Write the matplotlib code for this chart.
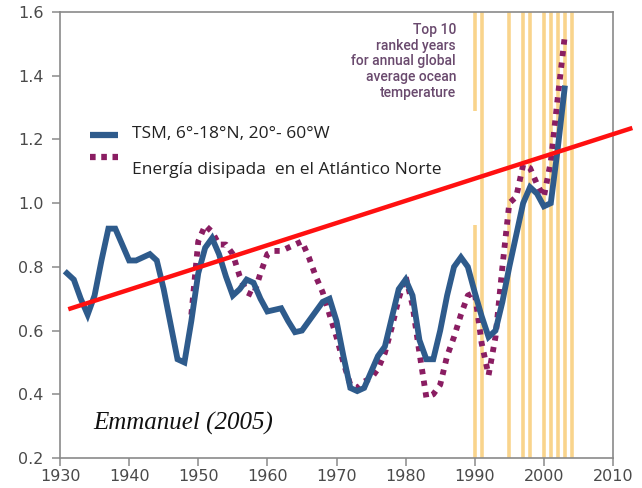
import matplotlib
matplotlib.use("Agg")
import matplotlib.pyplot as plt
from matplotlib.lines import Line2D

# ---- data ----
tsm_years = list(range(1931, 2004))
tsm_values = [0.78, 0.76, 0.70, 0.65, 0.71, 0.82, 0.92, 0.92, 0.87, 0.82,
              0.82, 0.83, 0.84, 0.82, 0.73, 0.62, 0.51, 0.50, 0.63, 0.78,
              0.86, 0.89, 0.84, 0.77, 0.71, 0.73, 0.76, 0.75, 0.70, 0.66,
              0.665, 0.67, 0.63, 0.595, 0.60, 0.63, 0.66, 0.69, 0.70, 0.63,
              0.52, 0.42, 0.41, 0.42, 0.47, 0.52, 0.55, 0.64, 0.73, 0.76,
              0.71, 0.57, 0.51, 0.51, 0.60, 0.71, 0.80, 0.83, 0.80, 0.72,
              0.645, 0.58, 0.60, 0.69, 0.80, 0.90, 1.00, 1.05, 1.03, 0.99,
              1.00, 1.17, 1.36]

pdi_years = list(range(1949, 2004))
pdi_values = [0.65, 0.88, 0.93, 0.91, 0.87, 0.87, 0.84, 0.77, 0.72, 0.71,
              0.78, 0.84, 0.85, 0.85, 0.86, 0.87, 0.88, 0.83, 0.77, 0.72,
              0.65, 0.58, 0.50, 0.43, 0.42, 0.44, 0.45, 0.48, 0.53, 0.61,
              0.70, 0.77, 0.68, 0.53, 0.39, 0.40, 0.43, 0.52, 0.58, 0.65,
              0.71, 0.72, 0.56, 0.46, 0.58, 0.80, 1.00, 1.02, 1.12, 1.11,
              1.06, 1.02, 1.13, 1.33, 1.52]

trend_years = [1931.2, 2012.8]
trend_values = [0.667, 1.236]

top10_years = [1990, 1991, 1995, 1997, 1998, 2000, 2001, 2002, 2003, 2004]

xticks = [1930, 1940, 1950, 1960, 1970, 1980, 1990, 2000, 2010]
yticks = [0.2, 0.4, 0.6, 0.8, 1.0, 1.2, 1.4, 1.6]

label_tsm = "TSM, 6°-18°N, 20°- 60°W"
label_pdi = "Energía disipada  en el Atlántico Norte"
annot = "Top 10\nranked years\nfor annual global\naverage ocean\ntemperature"
source = "Emmanuel (2005)"

# ---- style ----
blue = "#2E5B8C"
purple = "#8A1D62"
orange = "#F9D48C"
red = "#FF1010"
gray = "#8a8a8a"

fig = plt.figure(figsize=(6.42, 4.88), dpi=100)
ax = fig.add_axes([60/642, 30/488, 553/642, 446/488])
ax.set_xlim(1930, 2010)
ax.set_ylim(0.2, 1.6)

# top-10 vertical bands
for yr in top10_years:
    if yr == 1990:
        ax.plot([yr, yr], [0.2, 0.93], color=orange, lw=2.6, zorder=1, solid_capstyle="butt")
        ax.plot([yr, yr], [1.29, 1.6], color=orange, lw=2.6, zorder=1, solid_capstyle="butt")
    else:
        ax.axvline(yr, color=orange, lw=2.6, zorder=1)

ax.plot(pdi_years, pdi_values, color=purple, lw=4.2, linestyle=(0, (0.9, 1.1)),
        dash_capstyle="butt", zorder=3)
ax.plot(tsm_years, tsm_values, color=blue, lw=4.2, zorder=4, solid_joinstyle="miter")
ax.plot(trend_years, trend_values, color=red, lw=3.2, zorder=5, clip_on=False,
        solid_capstyle="butt")

# legend (manual)
ax.add_line(Line2D([0.054, 0.105], [0.724, 0.724], transform=ax.transAxes,
                   color=blue, lw=4.5, solid_capstyle="butt"))
ax.add_line(Line2D([0.054, 0.105], [0.675, 0.675], transform=ax.transAxes,
                   color=purple, lw=4.5, linestyle=(0, (0.9, 0.9)), dash_capstyle="butt"))
ax.text(0.13, 0.726, label_tsm, transform=ax.transAxes, fontsize=12.5,
        family="Open Sans", color="#222222", va="center", ha="left")
ax.text(0.13, 0.646, label_pdi, transform=ax.transAxes, fontsize=12.5,
        family="Open Sans", color="#222222", va="center", ha="left")

ax.text(1987.3, 1.565, annot, ha="right", va="top", fontsize=10, family="Roboto",
        color="#6a4a6e", linespacing=1.15, fontweight="medium")

ax.text(0.06, 0.0785, source, transform=ax.transAxes, fontsize=18,
        family="Liberation Serif", style="italic", color="#111111",
        va="center", ha="left")

ax.set_xticks(xticks)
ax.set_yticks(yticks)
ax.set_yticklabels([f"{v:.1f}" for v in yticks])
ax.tick_params(axis="both", direction="out", length=6, width=1.1, color=gray,
               labelsize=11.5, labelcolor="#4a4a4a")
ax.tick_params(axis="x", pad=2)
ax.tick_params(axis="y", pad=6)
for s in ax.spines.values():
    s.set_color(gray)
    s.set_linewidth(1.2)

fig.savefig("out.png", dpi=100)
